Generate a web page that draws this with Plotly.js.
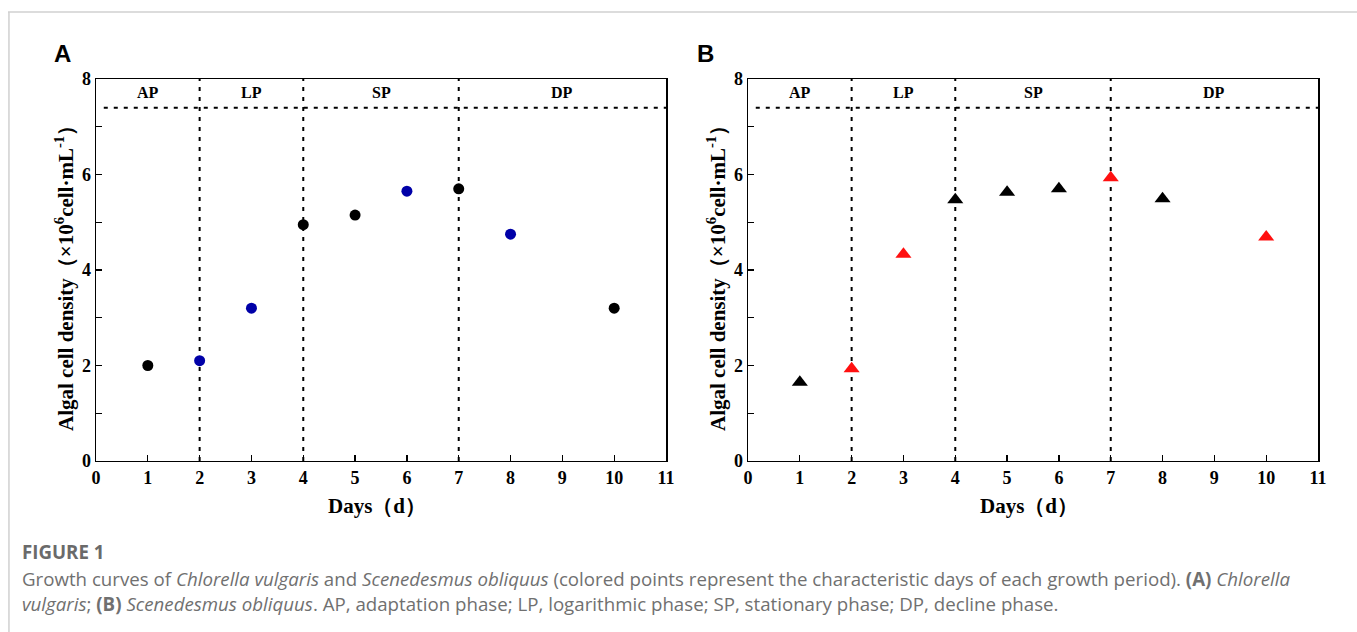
<!DOCTYPE html>
<html>
<head>
<meta charset="utf-8">
<script src="https://cdn.plot.ly/plotly-3.0.1.min.js"></script>
<style>html,body{margin:0;padding:0;background:#fff;}#chart{width:1357px;height:632px;}</style>
</head>
<body>
<div id="chart"></div>
<script>
// ---- data ----
const days = [1, 2, 3, 4, 5, 6, 7, 8, 10];
const densityA = [2.0, 2.1, 3.2, 4.95, 5.15, 5.65, 5.7, 4.75, 3.2];   // Chlorella vulgaris
const densityB = [1.65, 1.93, 4.33, 5.47, 5.63, 5.7, 5.93, 5.49, 4.69]; // Scenedesmus obliquus
const charDaysA = [2, 3, 6, 8];
const charDaysB = [2, 3, 7, 10];
const phaseBounds = [2, 4, 7];
const phaseNames = ['AP', 'LP', 'SP', 'DP'];
const phaseCenters = [1, 3, 5.5, 9];
const phaseLineY = 7.4;
const xTicks = [0, 1, 2, 3, 4, 5, 6, 7, 8, 9, 10, 11];
const yTicks = [0, 2, 4, 6, 8];

const serif = 'Liberation Serif, Times New Roman, serif';
const blue = '#0000a8', red = '#ff1010', black = '#000000';

const traces = [
  {
    x: days, y: densityA, xaxis: 'x', yaxis: 'y', type: 'scatter', mode: 'markers',
    marker: {symbol: 'circle', size: 11, color: days.map(d => charDaysA.includes(d) ? blue : black)},
    showlegend: false, hoverinfo: 'x+y'
  },
  {
    x: days, y: densityB, xaxis: 'x2', yaxis: 'y2', type: 'scatter', mode: 'markers',
    marker: {symbol: 'triangle-up', size: 14, color: days.map(d => charDaysB.includes(d) ? red : black)},
    showlegend: false, hoverinfo: 'x+y'
  }
];

function xax(domain, anchor) {
  return {
    domain: domain, anchor: anchor, range: [0, 11], tickvals: xTicks, ticktext: xTicks.map(String),
    ticks: 'inside', ticklen: 6, tickwidth: 1.3, tickcolor: '#000',
    showline: true, linecolor: '#000', linewidth: 1.5, mirror: true,
    showgrid: false, zeroline: false,
    tickfont: {family: serif, size: 18, color: '#000', weight: 'bold'}
  };
}
function yax(anchor) {
  return {
    domain: [0.2706, 0.875], anchor: anchor, range: [0, 8], tickvals: yTicks, ticktext: yTicks.map(String),
    ticks: 'inside', ticklen: 6, tickwidth: 1.3, tickcolor: '#000',
    minor: {tickvals: [1, 3, 5, 7], ticks: 'inside', ticklen: 6, tickwidth: 1.3, tickcolor: '#000'},
    showline: true, linecolor: '#000', linewidth: 1.5, mirror: true,
    showgrid: false, zeroline: false,
    tickfont: {family: serif, size: 18, color: '#000', weight: 'bold'}
  };
}

const shapes = [];
const annotations = [];
[['x', 'y'], ['x2', 'y2']].forEach(([xr, yr]) => {
  phaseBounds.forEach(b => shapes.push({
    type: 'line', xref: xr, yref: yr, x0: b, x1: b, y0: 0, y1: 8, layer: 'below',
    line: {color: '#000', width: 2, dash: '4px,6px'}
  }));
  shapes.push({
    type: 'line', xref: xr, yref: yr, x0: 0.15, x1: 11, y0: phaseLineY, y1: phaseLineY, layer: 'below',
    line: {color: '#000', width: 2, dash: '4px,6px'}
  });
  phaseNames.forEach((n, i) => annotations.push({
    xref: xr, yref: yr, x: phaseCenters[i], y: 7.72, text: n, showarrow: false,
    xanchor: 'center', yanchor: 'middle',
    font: {family: serif, size: 16, color: '#000', weight: 'bold'}
  }));
});

// page frame lines
shapes.push({type: 'line', xref: 'paper', yref: 'paper', x0: 0.0059, x1: 1, y0: 0.981, y1: 0.981, line: {color: '#d0d0d0', width: 1.5}});
shapes.push({type: 'line', xref: 'paper', yref: 'paper', x0: 0.0066, x1: 0.0066, y0: 0, y1: 0.981, line: {color: '#d0d0d0', width: 1.5}});

function paperAnn(px, py, text, font, extra) {
  return Object.assign({xref: 'paper', yref: 'paper', x: px / 1357, y: 1 - py / 632, text: text,
    showarrow: false, xanchor: 'center', yanchor: 'middle', font: font}, extra || {});
}

// panel letters
const letterFont = {family: 'Liberation Sans, Arial, sans-serif', size: 24, color: '#000'};
annotations.push(paperAnn(62, 53, '<b>A</b>', letterFont));
annotations.push(paperAnn(705, 53, '<b>B</b>', letterFont));

// axis titles
const yTitle = 'Algal cell density（×10<sup>6</sup>cell·mL<sup>-1</sup>）';
const titleFont = {family: serif, size: 21, color: '#000', weight: 'bold'};
[[64, 377], [716, 1029]].forEach(([yx, xx]) => {
  annotations.push(paperAnn(yx, 273, yTitle, titleFont, {textangle: -90}));
  annotations.push(paperAnn(xx, 506, 'Days（d）', titleFont));
});

// caption
const capFont = {family: 'Open Sans, Noto Sans, sans-serif', size: 18.7, color: '#707070'};
annotations.push(paperAnn(20, 551, '<b>FIGURE 1</b>', Object.assign({}, capFont, {color: '#6a6a6a'}), {xanchor: 'left'}));
annotations.push(paperAnn(20, 578,
  'Growth curves of <i>Chlorella vulgaris</i> and <i>Scenedesmus obliquus</i> (colored points represent the characteristic days of each growth period). <b>(A)</b> <i>Chlorella</i>',
  capFont, {xanchor: 'left'}));
annotations.push(paperAnn(20, 603,
  '<i>vulgaris</i>; <b>(B)</b> <i>Scenedesmus obliquus</i>. AP, adaptation phase; LP, logarithmic phase; SP, stationary phase; DP, decline phase.',
  capFont, {xanchor: 'left'}));

const layout = {
  width: 1357, height: 632, autosize: false,
  margin: {l: 0, r: 0, t: 0, b: 0},
  paper_bgcolor: '#fff', plot_bgcolor: '#fff',
  showlegend: false,
  xaxis: xax([96 / 1357, 666 / 1357], 'y'),
  yaxis: yax('x'),
  xaxis2: xax([748 / 1357, 1318 / 1357], 'y2'),
  yaxis2: yax('x2'),
  shapes: shapes,
  annotations: annotations
};

Plotly.newPlot('chart', traces, layout, {displayModeBar: false, staticPlot: true});
</script>
</body>
</html>
